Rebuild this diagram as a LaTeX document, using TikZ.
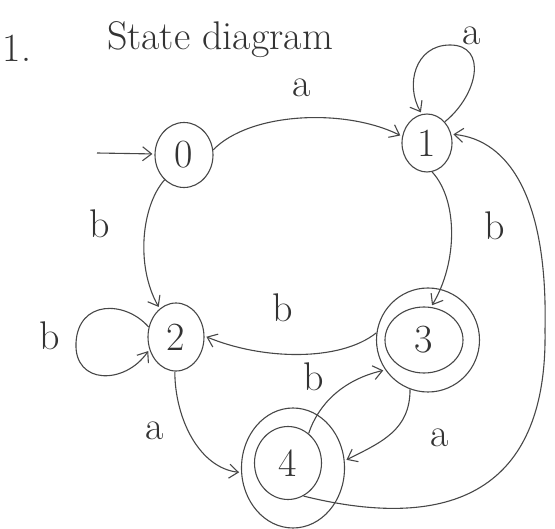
\documentclass[tikz,border=0pt]{standalone}
\usetikzlibrary{arrows.meta,shapes.geometric}
\begin{document}
\begin{tikzpicture}[x=1pt,y=-1pt,
  pen/.style={draw=black!72,line width=1.1pt},
  st/.style={pen,ellipse,inner sep=0pt,font=\fontsize{40}{40}\selectfont,text=black!80},
  edge/.style={pen,-{Straight Barb[length=9pt,width=14pt,line width=1.1pt]},shorten >=2pt},
  lbl/.style={font=\fontsize{40}{40}\selectfont,text=black!80,inner sep=0pt}]
\useasboundingbox (0,0) rectangle (555,529);

% title
\node[lbl] (num) at (17,48) {1.};
\node[lbl,font=\fontsize{40}{40}\selectfont] (title) at (220,40) {State diagram};

% states
\node[st,minimum width=58pt,minimum height=65pt] (n0) at (184,155) {0};
\node[st,minimum width=50pt,minimum height=58pt] (n1) at (427,143) {1};
\node[st,minimum width=56pt,minimum height=68pt] (n2) at (176,337) {2};
\node[st,minimum width=103pt,minimum height=104pt] (n3) at (428,340) {};
\node[st,minimum width=78pt,minimum height=66pt] (n3i) at (424,340) {3};
\node[st,minimum width=103pt,minimum height=120pt] (n4) at (293,468) {};
\node[st,minimum width=67pt,minimum height=73pt] (n4i) at (288,463) {4};

% start arrow
\coordinate (s) at (97,153);
\draw[edge] (s) -- (n0.178);

% 0 -> 1
\draw[edge] (n0.10) .. controls (250,112) and (345,108) .. (n1.165);
\node[lbl] (la01) at (302,88) {a};

% loop on 1
\draw[edge] (n1.50) .. controls (478,95) and (488,45) .. (450,45)
  .. controls (415,45) and (405,85) .. (n1.100);
\node[lbl] (la11) at (472,36) {a};

% 0 -> 2
\draw[edge] (n0.232) .. controls (142,205) and (135,265) .. (n2.120);
\node[lbl] (lb02) at (100,224) {b};

% loop on 2
\draw[edge] (n2.160) .. controls (125,300) and (78,300) .. (76,343)
  .. controls (74,385) and (125,385) .. (n2.205);
\node[lbl] (lb22) at (50,336) {b};

% 1 -> 3
\draw[edge] (n1.280) .. controls (458,200) and (458,262) .. (n3i.78);
\node[lbl] (lb13) at (495,226) {b};

% 3 -> 2
\draw[edge] (n3.172) .. controls (340,362) and (262,360) .. (n2.2);
\node[lbl] (lb32) at (283,308) {b};

% 4 -> 3
\draw[edge] (n4i.55) .. controls (318,405) and (342,380) .. (n3.215);
\node[lbl] (lb43) at (314,377) {b};

% 2 -> 4
\draw[edge] (n2.268) .. controls (175,420) and (200,468) .. (n4.185);
\node[lbl] (la24) at (155,431) {a};

% 3 -> 4
\draw[edge] (n3.250) .. controls (410,430) and (382,442) .. (n4.8);
\node[lbl] (la34) at (440,438) {a};

% 4 -> 1
\draw[edge] (n4i.295) .. controls (440,530) and (548,500) .. (545,330)
  .. controls (548,200) and (510,140) .. (n1.20);
\end{tikzpicture}
\end{document}
